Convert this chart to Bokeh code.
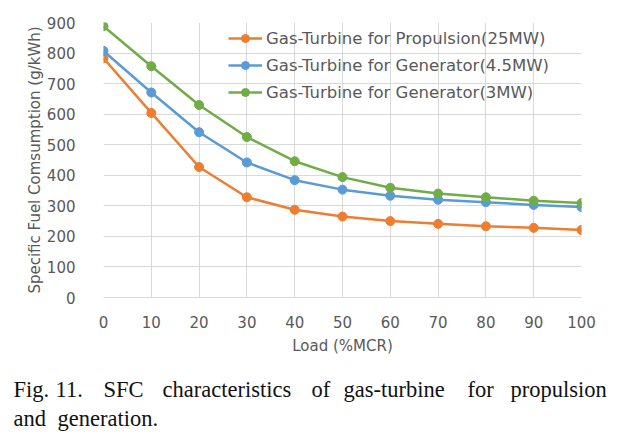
from bokeh.plotting import figure
from bokeh.models import Range1d, Legend, LegendItem, FixedTicker, ColumnDataSource
from bokeh.core.properties import value
from bokeh.embed import file_html
from bokeh.resources import INLINE

load = [0, 10, 20, 30, 40, 50, 60, 70, 80, 90, 100]
propulsion_25mw = [783, 604, 427, 328, 287, 265, 250, 241, 233, 228, 221]
generator_4_5mw = [807, 671, 541, 442, 384, 353, 333, 320, 312, 303, 296]
generator_3mw = [888, 757, 630, 525, 446, 394, 359, 340, 328, 317, 309]
series_names = ["Gas-Turbine for Propulsion(25MW)",
                "Gas-Turbine for Generator(4.5MW)",
                "Gas-Turbine for Generator(3MW)"]
colors = ["#ED7D31", "#5B9BD5", "#70AD47"]
y_ticks = [0, 100, 200, 300, 400, 500, 600, 700, 800, 900]
x_label = "Load (%MCR)"
y_label = "Specific Fuel Comsumption (g/kWh)"
caption_line1 = ["Fig.", "11.", "SFC", "characteristics", "of", "gas-turbine", "for", "propulsion"]
caption_line2 = ["and", "generation."]

FONT = "DejaVu Sans"
GRAY = "#595959"
W = 633
CHART_H = 360
CAP_H = 78

p = figure(width=W, height=CHART_H, output_backend="svg", toolbar_location=None,
           x_range=Range1d(0, 100), y_range=Range1d(0, 900),
           min_border_left=103, min_border_right=52, min_border_top=22, min_border_bottom=63)
p.outline_line_color = None
p.background_fill_color = "white"
p.border_fill_color = "white"

items = []
for ys, name, c in zip([propulsion_25mw, generator_4_5mw, generator_3mw], series_names, colors):
    r1 = p.line(load, ys, line_color=c, line_width=2.5)
    r2 = p.scatter(load, ys, size=9, fill_color=c, line_color=c)
    items.append(LegendItem(label=name, renderers=[r1, r2]))

for ax in (p.xaxis[0], p.yaxis[0]):
    ax.major_tick_line_color = None
    ax.minor_tick_line_color = None
    ax.major_label_text_font = FONT
    ax.major_label_text_font_size = "15px"
    ax.major_label_text_color = GRAY
    ax.axis_label_text_font = FONT
    ax.axis_label_text_font_size = "15px"
    ax.axis_label_text_font_style = "normal"
    ax.axis_label_text_color = GRAY

p.xaxis.ticker = FixedTicker(ticks=load)
p.yaxis.ticker = FixedTicker(ticks=y_ticks)
p.xaxis.axis_line_color = "#D9D9D9"
p.yaxis.axis_line_color = None
p.xaxis.major_label_standoff = 12
p.yaxis.major_label_standoff = 22
p.xaxis.axis_label = x_label
p.yaxis.axis_label = y_label
p.xaxis.axis_label_standoff = 6
p.yaxis.axis_label_standoff = 0

p.xgrid.grid_line_color = "#D9D9D9"
p.ygrid.grid_line_color = "#D9D9D9"

legend = Legend(items=items, location=(125, 195))
legend.background_fill_alpha = 0
legend.border_line_color = None
legend.padding = 0
legend.margin = 0
legend.spacing = 7
legend.glyph_width = 34
legend.glyph_height = 20
legend.label_height = 20
legend.label_standoff = 4
legend.label_text_font = FONT
legend.label_text_font_size = "16.5px"
legend.label_text_color = GRAY
p.add_layout(legend, "center")

# caption: a separate text-only figure below the chart; words spread to
# mimic the justified caption of the original
cap = figure(width=W, height=CAP_H, output_backend="svg", toolbar_location=None,
             x_range=Range1d(0, W), y_range=Range1d(CAP_H, 0),
             min_border_left=0, min_border_right=0, min_border_top=0, min_border_bottom=0)
cap.axis.visible = False
cap.grid.visible = False
cap.outline_line_color = None
line1_x = [13, 55, 103, 162, 311, 343, 467, 510]
line2_x = [13, 57]
src = ColumnDataSource(dict(x=line1_x + line2_x,
                            y=[29] * len(caption_line1) + [58] * len(caption_line2),
                            t=caption_line1 + caption_line2))
cap.text(x="x", y="y", text="t", source=src, text_font=value("Liberation Serif"),
         text_font_size="22.5px", text_color="#111111", text_baseline="alphabetic")

open("out.html", "w").write(file_html([p, cap], INLINE))
